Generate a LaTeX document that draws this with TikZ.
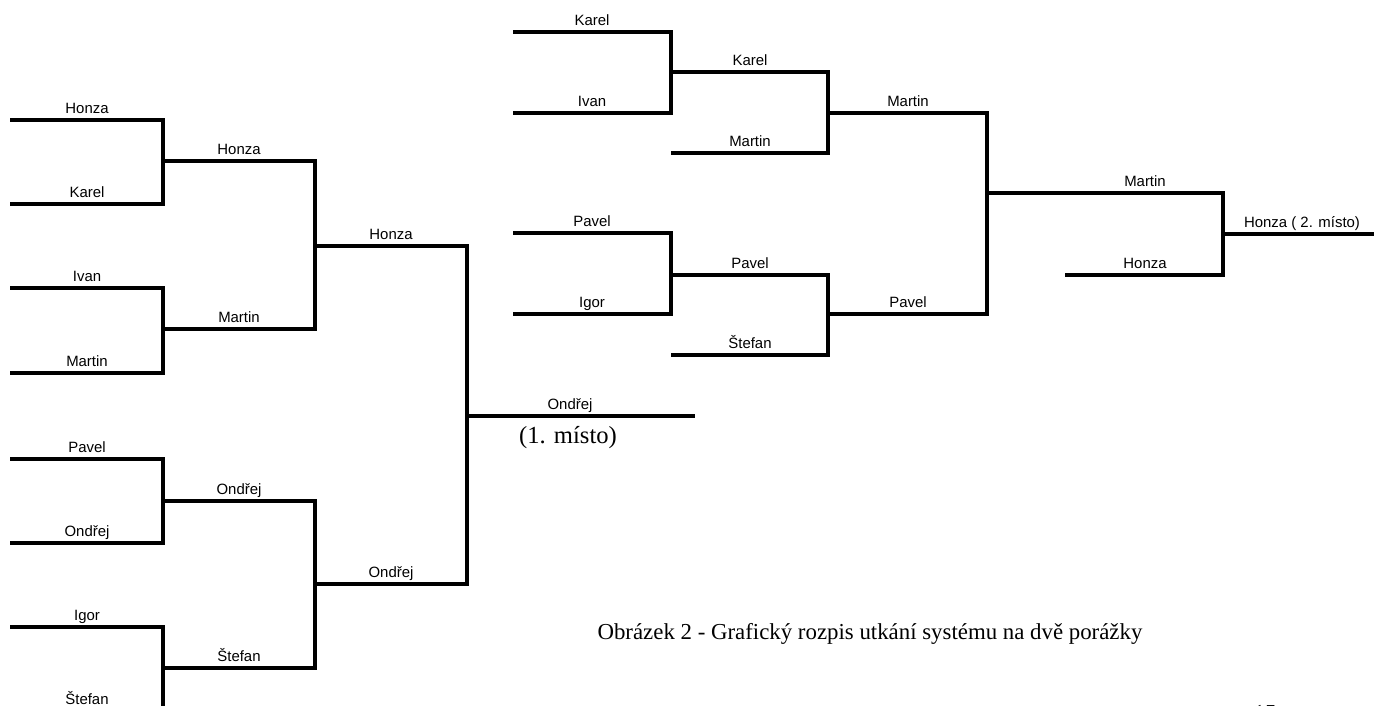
\documentclass[tikz,border=0pt]{standalone}
\usepackage{fontspec}
\setmainfont{Liberation Serif}
\newfontfamily\playerfont{Liberation Sans}

\begin{document}
\begin{tikzpicture}[x=0.02cm,y=-0.02cm,line width=1.8pt,line join=miter,
    player/.style={font=\playerfont\fontsize{8.5}{10}\selectfont,anchor=base,inner sep=0pt,yshift=3.5pt},
    place/.style={font=\fontsize{14}{16}\selectfont,anchor=base,inner sep=0pt},
    caption/.style={font=\fontsize{13}{15}\selectfont,anchor=base west,inner sep=0pt}]
          \useasboundingbox (0,0) rectangle (1374,706);
          \clip (0,0) rectangle (1374,706);

          \node[player] (a1) at (87,120) {Honza};
          \node[player] (a2) at (87,204) {Karel};
          \node[player] (a3) at (87,288) {Ivan};
          \node[player] (a4) at (87,373) {Martin};
          \node[player] (a5) at (87,459) {Pavel};
          \node[player] (a6) at (87,543) {Ondřej};
          \node[player] (a7) at (87,627) {Igor};
          \node[player] (a8) at (87,711) {Štefan};
          \node[player] (b1) at (239,161) {Honza};
          \node[player] (b2) at (239,329) {Martin};
          \node[player] (b3) at (239,501) {Ondřej};
          \node[player] (b4) at (239,668) {Štefan};
          \node[player] (c1) at (391,246) {Honza};
          \node[player] (c2) at (391,584) {Ondřej};
          \node[player] (win) at (570,416) {Ondřej};
          \node[place] (first) at (568,443) {(1. místo)};

          \node[player] (k1) at (592,32) {Karel};
          \node[player] (k2) at (592,113) {Ivan};
          \node[player] (k3) at (750,72) {Karel};
          \node[player] (k4) at (750,153) {Martin};
          \node[player] (k5) at (592,233) {Pavel};
          \node[player] (k6) at (592,314) {Igor};
          \node[player] (k7) at (750,275) {Pavel};
          \node[player] (k8) at (750,355) {Štefan};
          \node[player] (m1) at (908,113) {Martin};
          \node[player] (m2) at (908,314) {Pavel};
          \node[player] (f1) at (1145,193) {Martin};
          \node[player] (f2) at (1145,275) {Honza};
          \node[player] (second) at (1302,234) {Honza ( 2. místo)};

          \node[caption] (cap) at (596,639) {Obrázek 2 - Grafický rozpis utkání systému na dvě porážky};
          \node[caption,anchor=north west] (page) at (1252,704) {15};

          \draw (10,120) -| (163,204) -- (10,204);
          \draw (10,288) -| (163,373) -- (10,373);
          \draw (10,459) -| (163,543) -- (10,543);
          \draw (10,627) -| (163,711) -- (10,711);
          \draw (163,161) -| (315,329) -- (163,329);
          \draw (163,501) -| (315,668) -- (163,668);
          \draw (315,246) -| (467,584) -- (315,584);
          \draw (467,416) -- (695,416);

          \draw (513,32) -| (671,113) -- (513,113);
          \draw (671,72) -| (828,153) -- (671,153);
          \draw (513,233) -| (671,314) -- (513,314);
          \draw (671,275) -| (828,355) -- (671,355);
          \draw (828,113) -| (987,314) -- (828,314);
          \draw (987,193) -| (1223,275) -- (1065,275);
          \draw (1223,234) -- (1374,234);
        \end{tikzpicture}
\end{document}
